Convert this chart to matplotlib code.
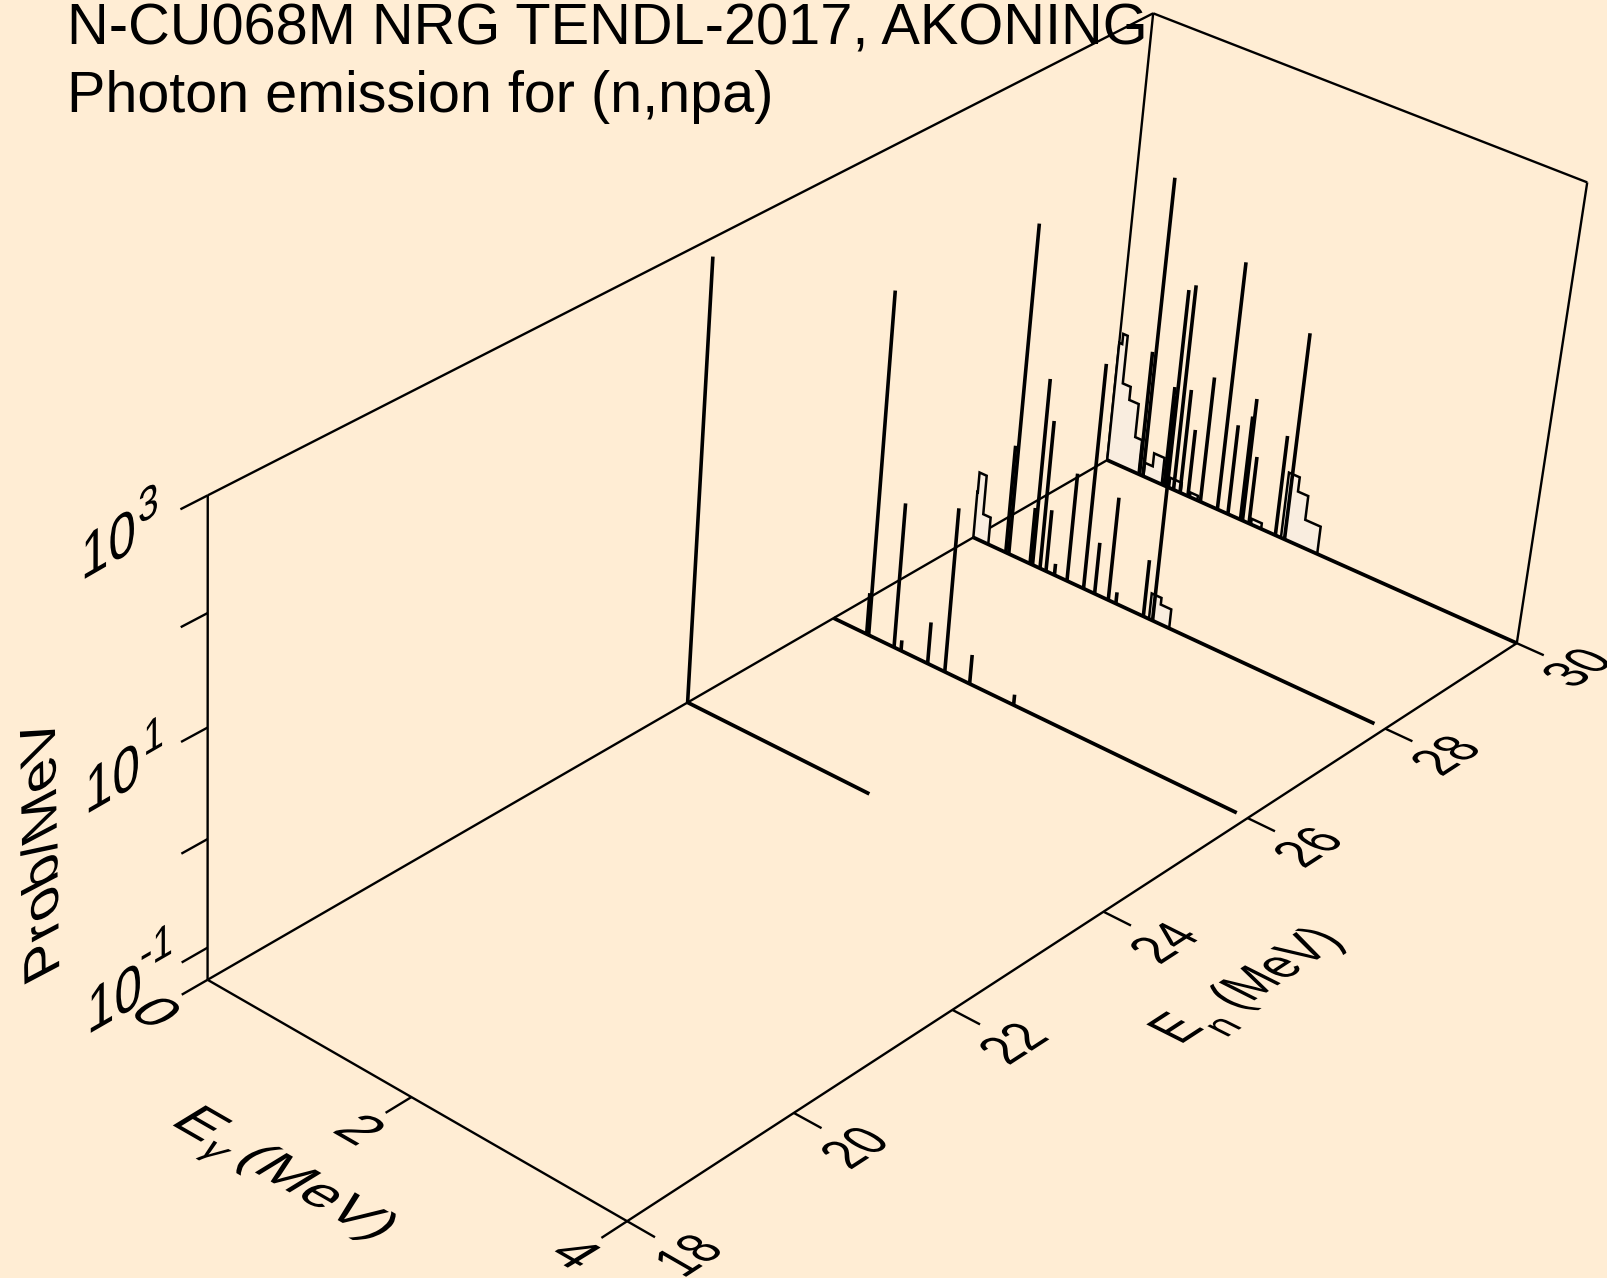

import numpy as np
import matplotlib
matplotlib.use("Agg")
import matplotlib.pyplot as plt
from matplotlib.text import Text
from matplotlib.textpath import TextPath
from matplotlib.patches import PathPatch
from matplotlib.transforms import Affine2D
from mpl_toolkits.mplot3d.art3d import Poly3DCollection, Line3DCollection

# ---------- data (log10 of Prob/MeV, energies in MeV) ----------
title_line1 = "N-CU068M NRG TENDL-2017, AKONING"
title_line2 = "Photon emission for (n,npa)"
en_ticks = [18, 20, 22, 24, 26, 28, 30]
eg_ticks = [0, 2, 4]
z_ticks = [-1, 0, 1, 2, 3]

z_min, z_max = -1.301, 3.0
eg_max, en_min, en_max = 4.0, 18.0, 30.0

slice_en = [30, 28, 26, 24]
slice_end = [4.0, 3.9, 3.9, 1.8]

spike_e_30 = [0.33, 0.365, 0.58, 0.605, 0.675, 0.74, 0.82, 0.945, 1.115, 1.22, 1.345, 1.365, 1.43, 1.69, 1.78]
spike_z_30 = [-0.08, 1.61, -0.32, -0.40, 0.71, -0.28, -0.64, -0.07, 1.11, -0.42, -0.28, -0.10, -0.64, -0.32, 0.71]
spike_e_28 = [0.33, 0.36, 0.575, 0.60, 0.675, 0.735, 0.82, 0.945, 1.11, 1.22, 1.355, 1.43, 1.70, 1.79]
spike_z_28 = [-0.25, 1.87, -0.75, 0.51, 0.14, -0.70, -1.19, -0.25, 0.87, -0.80, -0.30, -1.19, -0.75, 1.84]
spike_e_26 = [0.335, 0.355, 0.61, 0.68, 0.945, 1.115, 1.36, 1.79]
spike_z_26 = [-0.90, 1.96, 0.09, -1.20, -0.90, 0.27, -1.02, -1.20]
spike_e_24 = [0.0]
spike_z_24 = [2.83]

hist_edges_30 = [[0.0, 0.03, 0.075, 0.155, 0.25, 0.32], [0.37, 0.45, 0.555], [0.63, 0.747],
                 [0.84, 0.915], [1.45, 1.55], [1.745, 1.85, 1.95, 2.10]]
hist_levels_30 = [[-0.13, -0.03, -0.50, -0.63, -0.96], [-1.165, -1.035], [-1.20],
                  [-1.255], [-1.245], [-0.655, -0.795, -1.03]]
hist_edges_28 = [[0.0, 0.005, 0.077, 0.152], [1.755, 1.85, 1.952]]
hist_levels_28 = [[-0.85, -0.655, -1.035], [-1.05, -1.115]]

# ---------- view: camera matrix of the box, anchored on its corners ----------
W, H = 1607, 1278
CAMERA = np.array([[125.4756261, 115.0845515, -3.4385267, -1805.3662361],
                   [56.7150306, -49.2611938, -155.1823404, 1962.2648897],
                   [-0.0179896, 0.0156625, -0.0168144, 1.0]])
BG = "#FFEDD4"
FILL = "#F9EDDF"

def proj(e, n, z):
    h = CAMERA @ np.array([e, n, z, 1.0])
    return h[:2] / h[2]

plt.rcParams["font.family"] = ["Liberation Sans", "DejaVu Sans"]
fig = plt.figure(figsize=(W / 100, H / 100), dpi=100, facecolor=BG)
ax = fig.add_axes([0, 0, 1, 1], projection="3d", computed_zorder=False)
ax.set_axis_off()
ax.patch.set_facecolor(BG)
ax.apply_aspect = lambda position=None: None
vl = ax.viewLim.frozen()
T = np.array([[vl.width / W, 0, vl.x0], [0, -vl.height / H, vl.y1], [0, 0, 1.0]]) @ CAMERA
M = np.vstack([T[0], T[1], [0, 0, 0, 1.0], T[2]])
ax.get_proj = lambda: M

FRAME = 1.7
def seg(e, n, z, lw=FRAME, zo=2):
    col = Line3DCollection([list(zip(e, n, z))], colors="k", linewidths=lw,
                           capstyle="butt", joinstyle="miter", zorder=zo)
    ax.add_collection3d(col, autolim=False)

# box
seg([0, 0], [en_min, en_min], [z_min, z_max])
seg([0, 0], [en_min, en_max], [z_max, z_max])
seg([0, eg_max], [en_max, en_max], [z_max, z_max])
seg([eg_max, eg_max], [en_max, en_max], [z_max, z_min])
seg([0, 0], [en_max, en_max], [z_min, z_max])
seg([0, 0], [en_min, en_max], [z_min, z_min])
seg([0, eg_max], [en_min, en_min], [z_min, z_min])
seg([eg_max, eg_max], [en_min, en_max], [z_min, z_min])
# ticks
for v in z_ticks:
    seg([0, 0], [en_min, en_min - 0.3], [v, v])
for v in eg_ticks:
    seg([v, v], [en_min, en_min - 0.3], [z_min, z_min])
for v in en_ticks:
    seg([eg_max, eg_max + 0.25], [v, v], [z_min, z_min])

# spectra, back to front
all_spikes = [(spike_e_30, spike_z_30), (spike_e_28, spike_z_28), (spike_e_26, spike_z_26), (spike_e_24, spike_z_24)]
all_hists = [(hist_edges_30, hist_levels_30), (hist_edges_28, hist_levels_28), ([], []), ([], [])]
for i, en in enumerate(slice_en):
    zo = 3 + i
    for edges, levels in zip(*all_hists[i]):
        ex = np.repeat(edges, 2)
        zx = np.concatenate([[z_min], np.repeat(levels, 2), [z_min]])
        ny = np.full(ex.shape, float(en))
        poly = Poly3DCollection([list(zip(ex, ny, zx))], facecolor=FILL, edgecolor="none", zorder=zo)
        ax.add_collection3d(poly, autolim=False)
        seg(ex, ny, zx, lw=1.8, zo=zo + 0.1)
    for e, z in zip(*all_spikes[i]):
        seg([e, e], [en, en], [z_min, z], lw=2.6, zo=zo + 0.2)
    seg([0, slice_end[i]], [en, en], [z_min, z_min], lw=2.7, zo=zo + 0.3)

# ---------- text lying in the planes of the box ----------
class PlaneText(Text):
    """Real text whose glyphs are laid along two pixel vectors (per em)."""
    def __init__(self, px, py, s, u, v):
        angle = np.degrees(np.arctan2(-u[1], u[0]))
        super().__init__(px / W, 1 - py / H, s, transform=fig.transFigure, rotation=angle,
                         rotation_mode="anchor", fontsize=np.hypot(*v) * 0.72,
                         family="Liberation Sans", color="k")
        self.px, self.py, self.u, self.v = px, py, u, v

    def draw(self, renderer):
        path = TextPath((0, 0), self.get_text(), size=1, prop=self.get_fontproperties())
        u, v = self.u, self.v
        aff = Affine2D.from_values(u[0], -u[1], v[0], -v[1], self.px, H - self.py)
        patch = PathPatch(path, facecolor="k", edgecolor="none", lw=0, transform=aff)
        patch.set_figure(self.get_figure())
        patch.draw(renderer)

def put(px, py, s, u, v):
    return fig.add_artist(PlaneText(px, py, s, u, v))

def unit(a, b):
    d = np.array(b, float) - np.array(a, float)
    return d / np.hypot(*d)

# En tick labels
for n in en_ticks:
    p = proj(eg_max, n, z_min)
    u = unit(proj(eg_max, n - 0.5, z_min), proj(eg_max, n + 0.5, z_min)) * 46
    v = unit(proj(eg_max, n, z_min), proj(eg_max - 1, n, z_min)) * 57
    put(p[0] + 56, p[1] + min(46 + (30 - n) * 1.25, 57.5), str(n), u, v)

EGu = unit(proj(0, en_min, z_min), proj(4, en_min, z_min))
EGv = unit(proj(2, en_min, z_min), proj(2, en_min + 1, z_min))
for e in eg_ticks:
    p = proj(e, en_min, z_min)
    put(p[0] - 81, p[1] + 34, str(e), EGu * 58, EGv * 56)

# axis titles
put(168.5, 1123, "E", EGu * 60, EGv * 56)
put(196.5, 1151, "\u03b3", EGu * 42, EGv * 38)
put(233.3, 1160, "(MeV)", EGu * 60, EGv * 54)

ENu = unit(proj(eg_max, 24, z_min), proj(eg_max, 26, z_min))
ENv = unit(proj(eg_max, 24, z_min), proj(eg_max - 1, 24, z_min))
put(1180, 1045, "E", ENu * 46, ENv * 60)
put(1226, 1038, "n", ENu * 38, ENv * 44)
put(1238, 1011, "(MeV)", ENu * 47, ENv * 58)

# z labels
WALLu = unit(proj(0, 18, z_min), proj(0, 20, z_min))
WALLv = np.array([0.0, -1.0])
Zu, Zv = WALLu * 57, WALLv * 63
put(81, 581, "10", Zu, Zv)
put(138, 525, "3", Zu * 0.75, Zv * 0.75)
put(85, 815, "10", Zu, Zv)
put(143.3, 756.7, "1", Zu * 0.75, Zv * 0.75)
put(87, 1035, "10", Zu, Zv)
put(140, 971.7, "-1", Zu * 0.75, Zv * 0.75)
put(59.3, 971, "Prob/MeV", np.array([-0.018, -1.0]) * 58, np.array([-0.885, 0.466]) * 57)

fig.text(66.6 / W, 1 - 44 / H, title_line1, fontsize=41.6, family="Liberation Sans", color="k", va="baseline")
fig.text(66.6 / W, 1 - 112.5 / H, title_line2, fontsize=41.4, family="Liberation Sans", color="k", va="baseline")

fig.savefig("out.png", dpi=100, facecolor=BG)
